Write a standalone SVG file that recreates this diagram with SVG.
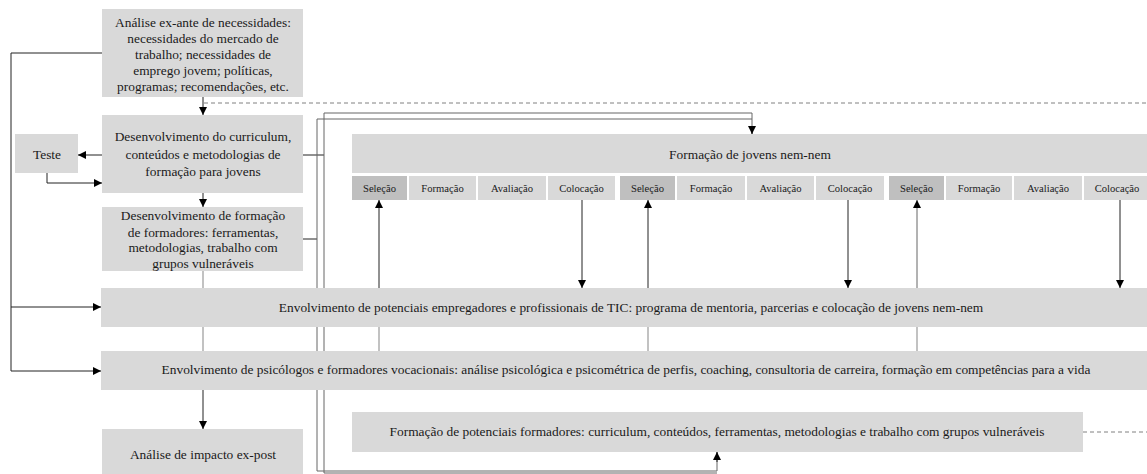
<svg xmlns="http://www.w3.org/2000/svg" width="1147" height="474" viewBox="0 0 1147 474" font-family="'Liberation Serif', 'Times New Roman', serif">
<defs>
<style>
.b{fill:#d9d9d9}
.s{fill:#bfbfbf}
text{font-family:"Liberation Serif","Times New Roman",serif;fill:#1a1a1a;text-anchor:middle}
.t{font-size:13.4px}
.c{font-size:10.6px}
.ln{fill:none;stroke:#222;stroke-width:1}
.lg{fill:none;stroke:#666;stroke-width:1}
.lp{fill:none;stroke:#999;stroke-width:1.2}
.ds{fill:none;stroke:#808080;stroke-width:1;stroke-dasharray:4 3}
</style>
<marker id="a" viewBox="0 0 10 10" refX="10" refY="5" markerWidth="8" markerHeight="8" markerUnits="userSpaceOnUse" orient="auto">
<path d="M0,0 L10,5 L0,10 Z" fill="#000"/>
</marker>
</defs>

<g id="connectors">
<path class="ds" d="M204,103 H1147"/>
<path class="ds" d="M1083,432 H1147"/>
<path class="ln" d="M203,97 V115" marker-end="url(#a)"/>
<path class="ln" d="M203,193 V207" marker-end="url(#a)"/>
<path class="ln" d="M102,155 H78" marker-end="url(#a)"/>
<path class="ln" d="M47,173 V183 H102" marker-end="url(#a)"/>
<path class="ln" d="M102,53 H11 V307 H101" marker-end="url(#a)"/>
<path class="ln" d="M11,307 V371 H101" marker-end="url(#a)"/>
<path class="lp" d="M203,271 V288"/>
<path class="lp" d="M203,327 V351"/>
<path class="ln" d="M203,390 V429" marker-end="url(#a)"/>
<path class="ln" d="M303,155 H324"/>
<path class="ln" d="M303,239 H317"/>
<path class="lg" d="M324,473 V113 H752 V134"/>
<path class="ln" d="M752,126 V134" marker-end="url(#a)"/>
<path class="lg" d="M317,471 V119 H752"/>
<path class="lg" d="M317,471 H717 V452"/>
<path class="lg" d="M324,473 H717"/>
<path class="ln" d="M717,462 V452" marker-end="url(#a)"/>
<path class="ln" d="M379,288 V200" marker-end="url(#a)"/>
<path class="ln" d="M648,288 V200" marker-end="url(#a)"/>
<path class="lg" d="M917,288 V200" marker-end="url(#a)"/>
<path class="lp" d="M379,327 V351"/>
<path class="lp" d="M648,327 V351"/>
<path class="lp" d="M917,327 V351"/>
<path class="ln" d="M582,200 V288" marker-end="url(#a)"/>
<path class="ln" d="M848,200 V288" marker-end="url(#a)"/>
<path class="ln" d="M1120,200 V288" marker-end="url(#a)"/>
</g>

<g id="analise-ex-ante">
<rect class="b" x="102" y="9" width="201" height="88"/>
<text class="t" x="203" y="27">Análise ex-ante de necessidades:</text>
<text class="t" x="203" y="43">necessidades do mercado de</text>
<text class="t" x="203" y="59">trabalho; necessidades de</text>
<text class="t" x="203" y="75">emprego jovem; políticas,</text>
<text class="t" x="203" y="91">programas; recomendações, etc.</text>
</g>

<g id="teste">
<rect class="b" x="15" y="134" width="63" height="39"/>
<text class="t" x="47" y="159">Teste</text>
</g>

<g id="desenv-curriculum">
<rect class="b" x="102" y="115" width="201" height="78"/>
<text class="t" x="203" y="141">Desenvolvimento do curriculum,</text>
<text class="t" x="203" y="159">conteúdos e metodologias de</text>
<text class="t" x="203" y="176">formação para jovens</text>
</g>

<g id="desenv-formadores">
<rect class="b" x="102" y="207" width="201" height="64"/>
<text class="t" x="203" y="220">Desenvolvimento de formação</text>
<text class="t" x="203" y="237">de formadores: ferramentas,</text>
<text class="t" x="203" y="252">metodologias, trabalho com</text>
<text class="t" x="203" y="268">grupos vulneráveis</text>
</g>

<g id="formacao-jovens">
<rect class="b" x="352" y="134" width="795" height="39"/>
<text class="t" x="750" y="159">Formação de jovens nem-nem</text>
<rect class="s" x="352" y="176" width="55" height="24"/>
<text class="c" x="379.5" y="192">Seleção</text>
<rect class="b" x="409" y="176" width="67" height="24"/>
<text class="c" x="442.5" y="192">Formação</text>
<rect class="b" x="478" y="176" width="68" height="24"/>
<text class="c" x="512" y="192">Avaliação</text>
<rect class="b" x="548" y="176" width="67" height="24"/>
<text class="c" x="581.5" y="192">Colocação</text>
<rect class="s" x="620" y="176" width="55" height="24"/>
<text class="c" x="647.5" y="192">Seleção</text>
<rect class="b" x="677" y="176" width="68" height="24"/>
<text class="c" x="711" y="192">Formação</text>
<rect class="b" x="747" y="176" width="67" height="24"/>
<text class="c" x="780.5" y="192">Avaliação</text>
<rect class="b" x="816" y="176" width="68" height="24"/>
<text class="c" x="850" y="192">Colocação</text>
<rect class="s" x="889" y="176" width="55" height="24"/>
<text class="c" x="916.5" y="192">Seleção</text>
<rect class="b" x="946" y="176" width="66" height="24"/>
<text class="c" x="979" y="192">Formação</text>
<rect class="b" x="1014" y="176" width="68" height="24"/>
<text class="c" x="1048" y="192">Avaliação</text>
<rect class="b" x="1084" y="176" width="63" height="24"/>
<text class="c" x="1117" y="192">Colocação</text>
</g>

<g id="envolvimento-empregadores">
<rect class="b" x="101" y="288" width="1046" height="39"/>
<text class="t" x="631" y="312">Envolvimento de potenciais empregadores e profissionais de TIC: programa de mentoria, parcerias e colocação de jovens nem-nem</text>
</g>

<g id="envolvimento-psicologos">
<rect class="b" x="101" y="351" width="1046" height="39"/>
<text class="t" x="626" y="374">Envolvimento de psicólogos e formadores vocacionais: análise psicológica e psicométrica de perfis, coaching, consultoria de carreira, formação em competências para a vida</text>
</g>

<g id="formacao-formadores">
<rect class="b" x="352" y="412" width="731" height="40"/>
<text class="t" x="717" y="436">Formação de potenciais formadores: curriculum, conteúdos, ferramentas, metodologias e trabalho com grupos vulneráveis</text>
</g>

<g id="analise-ex-post">
<rect class="b" x="102" y="429" width="201" height="45"/>
<text class="t" x="203" y="459">Análise de impacto ex-post</text>
</g>
</svg>
